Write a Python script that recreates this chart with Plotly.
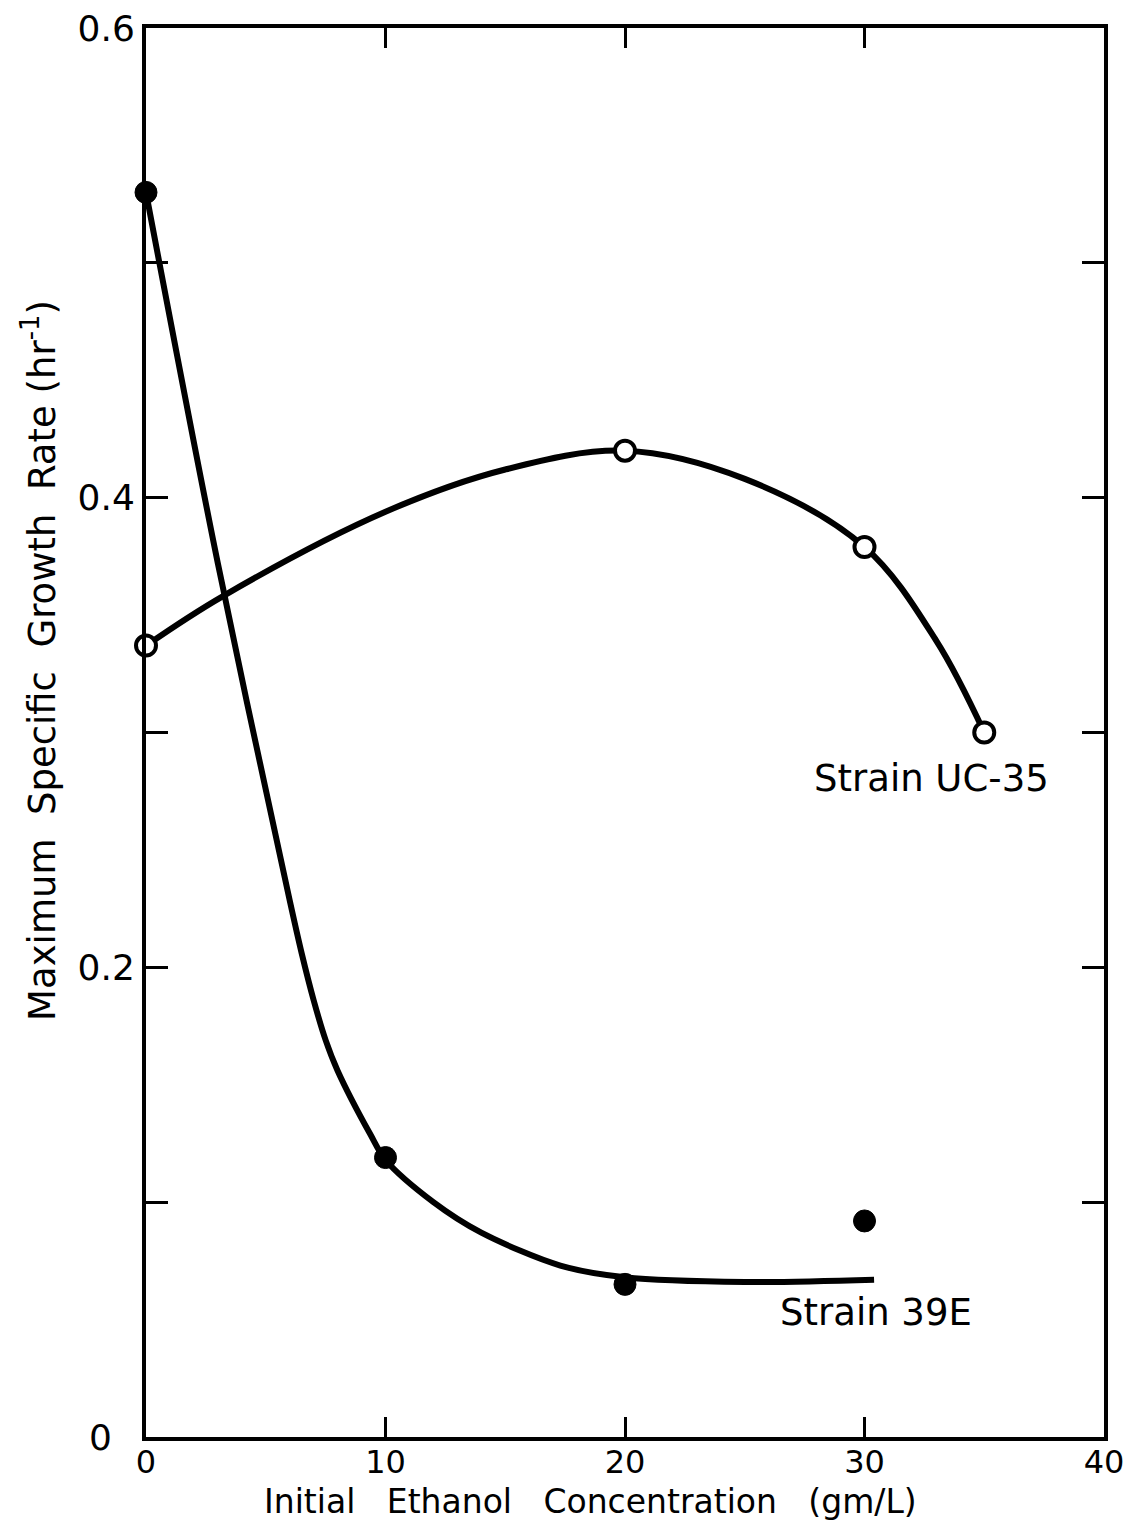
import plotly.graph_objects as go

# Measured maximum specific growth rates (hr^-1) vs initial ethanol (g/L)
uc35_ethanol = [0, 20, 30, 35]
uc35_rate = [0.337, 0.420, 0.379, 0.300]

e39_ethanol = [0, 10, 20, 30]
e39_rate = [0.530, 0.119, 0.065, 0.092]

# Hand-fitted trend curves traced along their drawn path
uc35_fit_x = [0, 3.2, 10, 15, 20, 25, 30, 33, 35]
uc35_fit_y = [0.337, 0.358, 0.394, 0.412, 0.420, 0.408, 0.379, 0.339, 0.300]

e39_fit_x = [0, 3.0, 6.0, 6.5, 7.0, 7.5, 8.0, 9.36, 10, 12, 14, 17.3, 20, 25, 30.4]
e39_fit_y = [0.530, 0.372, 0.2285, 0.206, 0.186, 0.169, 0.156, 0.129, 0.118, 0.100, 0.087, 0.073, 0.068, 0.066, 0.067]

x_ticks = [0, 10, 20, 30, 40]
x_labels = ["0", "10", "20", "30", "40"]
y_ticks = [0, 0.1, 0.2, 0.3, 0.4, 0.5, 0.6]
y_labels = ["0\u00a0\u00a0", "", "0.2", "", "0.4", "", "0.6"]

FONT = "DejaVu Sans"
fig = go.Figure()

fig.add_trace(go.Scatter(x=uc35_fit_x, y=uc35_fit_y, mode="lines",
                         line=dict(color="black", width=6, shape="spline", smoothing=1.0),
                         hoverinfo="skip", showlegend=False))
fig.add_trace(go.Scatter(x=e39_fit_x, y=e39_fit_y, mode="lines",
                         line=dict(color="black", width=6, shape="spline", smoothing=0.9),
                         hoverinfo="skip", showlegend=False))

fig.add_trace(go.Scatter(x=uc35_ethanol, y=uc35_rate, mode="markers", name="Strain UC-35",
                         marker=dict(symbol="circle", size=20, color="white",
                                     line=dict(color="black", width=4)),
                         cliponaxis=False, showlegend=False))
fig.add_trace(go.Scatter(x=e39_ethanol, y=e39_rate, mode="markers", name="Strain 39E",
                         marker=dict(symbol="circle", size=22, color="black",
                                     line=dict(color="black", width=1)),
                         cliponaxis=False, showlegend=False))

fig.add_annotation(x=32.8, y=0.2805, text="Strain UC-35", showarrow=False,
                   xanchor="center", yanchor="middle",
                   font=dict(family=FONT, size=37, color="black"))
fig.add_annotation(x=30.5, y=0.053, text="Strain 39E", showarrow=False,
                   xanchor="center", yanchor="middle",
                   font=dict(family=FONT, size=37, color="black"))

# Axis titles placed in paper coordinates
fig.add_annotation(xref="paper", yref="paper", x=0.4635, y=-0.0612,
                   text="Initial   Ethanol   Concentration   (gm/L)", showarrow=False,
                   xanchor="center", yanchor="bottom",
                   font=dict(family=FONT, size=33, color="black"))
fig.add_annotation(xref="paper", yref="paper", x=-0.1107, y=0.5515,
                   text="Maximum  Specific  Growth  Rate (hr<sup>-1</sup>)", showarrow=False,
                   textangle=-90, xanchor="center", yanchor="middle",
                   font=dict(family=FONT, size=37, color="black"))

axis_common = dict(showline=True, linecolor="black", linewidth=4, mirror="ticks",
                   ticks="inside", tickcolor="black", tickwidth=3,
                   showgrid=False, zeroline=False, automargin=False)

fig.update_xaxes(range=[0, 40], tickvals=x_ticks, ticktext=x_labels, ticklen=20,
                 ticklabelstandoff=-6,
                 tickfont=dict(family=FONT, size=32, color="black"), **axis_common)
fig.update_yaxes(range=[0, 0.6], tickvals=y_ticks, ticktext=y_labels, ticklen=22,
                 tickfont=dict(family=FONT, size=36, color="black"), **axis_common)

fig.update_layout(width=1131, height=1523, plot_bgcolor="white", paper_bgcolor="white",
                  margin=dict(l=146, r=27, t=28, b=86), showlegend=False)

fig.write_html("out.html")
